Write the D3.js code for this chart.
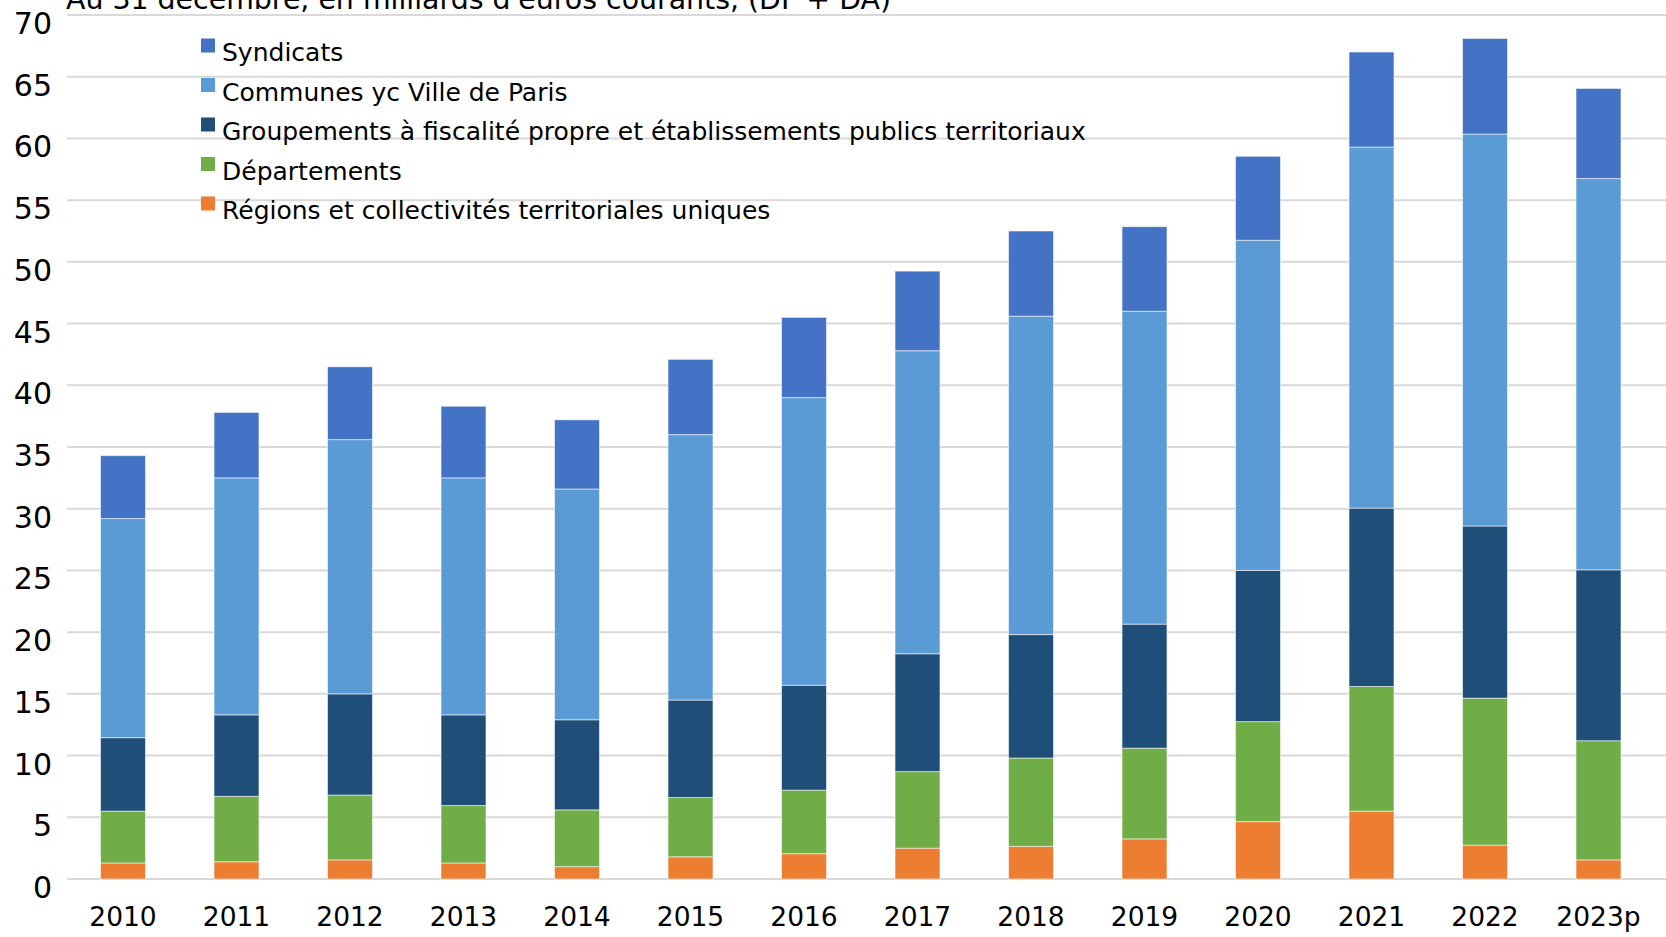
<!DOCTYPE html>
<html>
<head>
<meta charset="utf-8">
<script src="https://cdn.jsdelivr.net/npm/d3@7"></script>
<style>
  html, body { margin: 0; padding: 0; background: #fff; overflow: hidden; }
  svg { display: block; font-family: "DejaVu Sans", "Liberation Sans", sans-serif; }
</style>
</head>
<body>
<svg id="chart" width="1666" height="937"></svg>
<script>
// ---- Data ----
const title = "Au 31 décembre, en milliards d'euros courants, (DF + DA)";
const years = ["2010","2011","2012","2013","2014","2015","2016","2017","2018","2019","2020","2021","2022","2023p"];
const regions      = [1.3, 1.4, 1.55, 1.3, 1.0, 1.8, 2.05, 2.5, 2.65, 3.25, 4.65, 5.5, 2.75, 1.55];
const departements = [4.2, 5.3, 5.25, 4.65, 4.6, 4.8, 5.15, 6.2, 7.15, 7.35, 8.1, 10.1, 11.9, 9.65];
const groupements  = [5.95, 6.6, 8.2, 7.35, 7.3, 7.9, 8.5, 9.55, 10.0, 10.05, 12.25, 14.45, 13.95, 13.85];
const communes     = [17.75, 19.2, 20.6, 19.2, 18.7, 21.5, 23.3, 24.55, 25.8, 25.35, 26.75, 29.25, 31.75, 31.7];
const syndicats    = [5.1, 5.3, 5.9, 5.8, 5.6, 6.1, 6.5, 6.45, 6.9, 6.85, 6.8, 7.7, 7.75, 7.3];
const yTicks = [0, 5, 10, 15, 20, 25, 30, 35, 40, 45, 50, 55, 60, 65, 70];

// series, bottom to top of the stack
const seriesKeys   = ["regions", "departements", "groupements", "communes", "syndicats"];
const seriesNames  = ["Régions et collectivités territoriales uniques", "Départements",
                      "Groupements à fiscalité propre et établissements publics territoriaux",
                      "Communes yc Ville de Paris", "Syndicats"];
const seriesColors = ["#ED7D31", "#70AD47", "#1F4E79", "#5B9BD5", "#4472C4"];
const seriesValues = [regions, departements, groupements, communes, syndicats];

// ---- Build table ----
const table = years.map((y, i) => {
  const row = { year: y };
  seriesKeys.forEach((k, j) => row[k] = seriesValues[j][i]);
  return row;
});

const svg = d3.select("#chart");

const x = d3.scaleBand()
  .domain(years)
  .range([66.25, 1655.25])
  .paddingInner(0.604)
  .paddingOuter(0.302);

const y = d3.scaleLinear().domain([0, 70]).range([879, 15]);

// Gridlines
svg.append("g")
  .selectAll("line")
  .data(yTicks)
  .join("line")
  .attr("x1", 67).attr("x2", 1666)
  .attr("y1", d => y(d)).attr("y2", d => y(d))
  .attr("stroke", "#d9d9d9")
  .attr("stroke-width", 2);

// Y tick labels
svg.append("g")
  .selectAll("text")
  .data(yTicks)
  .join("text")
  .attr("x", 52)
  .attr("y", d => y(d) + 8.5)
  .attr("text-anchor", "end")
  .attr("dominant-baseline", "central")
  .attr("font-size", 30)
  .attr("fill", "#000")
  .text(d => d);

// Stacked bars
const stack = d3.stack().keys(seriesKeys);
const stacked = stack(table);

svg.append("g")
  .selectAll("g")
  .data(stacked)
  .join("g")
  .attr("fill", (d, i) => seriesColors[i])
  .selectAll("rect")
  .data(d => d)
  .join("rect")
  .attr("x", d => x(d.data.year))
  .attr("width", x.bandwidth())
  .attr("y", d => y(d[1]))
  .attr("height", d => y(d[0]) - y(d[1]))
  .attr("stroke", "#ffffff")
  .attr("stroke-opacity", 0.55)
  .attr("stroke-width", 1);

// X labels
svg.append("g")
  .selectAll("text")
  .data(years)
  .join("text")
  .attr("x", d => x(d) + x.bandwidth() / 2)
  .attr("y", 926)
  .attr("text-anchor", "middle")
  .attr("font-size", 26.5)
  .attr("fill", "#000")
  .text(d => d);

// Title (cut off at the top, as in the original)
svg.append("text")
  .attr("x", 66)
  .attr("y", 9)
  .attr("font-size", 28.4)
  .attr("fill", "#000")
  .text(title);

// Legend (top to bottom: Syndicats first)
const legendOrder = [4, 3, 2, 1, 0];
const legend = svg.append("g")
  .selectAll("g")
  .data(legendOrder)
  .join("g")
  .attr("transform", (d, i) => `translate(201, ${38.5 + i * 39.5})`);

legend.append("rect")
  .attr("width", 14).attr("height", 14)
  .attr("fill", d => seriesColors[d]);

legend.append("text")
  .attr("x", 21)
  .attr("y", 22.5)
  .attr("font-size", 25)
  .attr("fill", "#000")
  .text(d => seriesNames[d]);
</script>
</body>
</html>
